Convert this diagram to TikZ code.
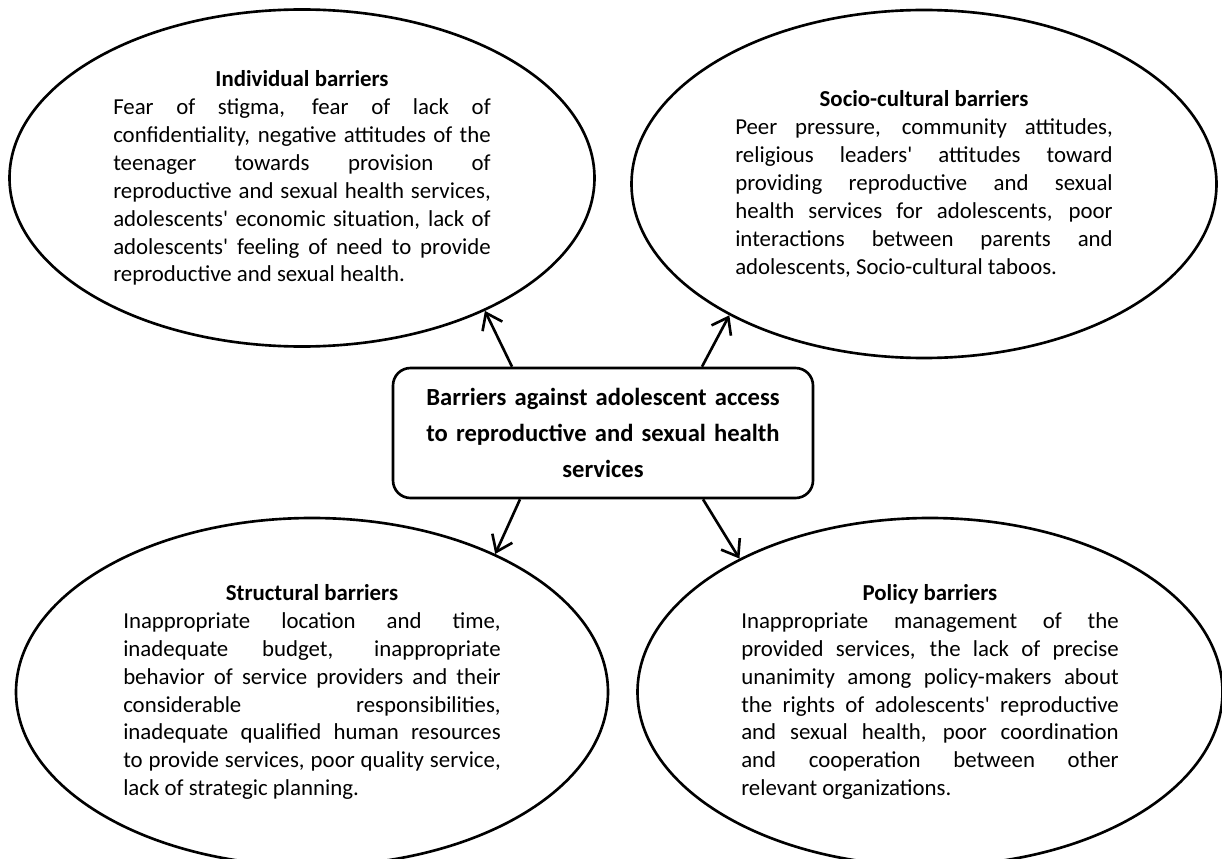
\documentclass[tikz,border=0pt]{standalone}
\usepackage{fontspec}
\setmainfont{Carlito}[Ligatures=TeXOff]
\usetikzlibrary{shapes,arrows.meta}
\tikzset{barrier/.style={ellipse,draw,inner sep=0pt,minimum width=11.7cm,minimum height=6.96cm,text width=7.55cm,align=justify,font=\fontsize{13pt}{15.9pt}\selectfont}}
\tikzset{hubbox/.style={rectangle,draw,rounded corners=0.35cm,minimum width=8.4cm,minimum height=2.6cm,text width=7.8cm,align=center,font=\bfseries\fontsize{14pt}{20.4pt}\selectfont}}
\newcommand{\btitle}[1]{{\centering\textbf{#1}\par}}

\begin{document}
\begin{tikzpicture}[>={Straight Barb[length=3mm,width=4.4mm]},line width=1.5pt]
        \clip (0,0) rectangle (24.44,17.16);
        \node[barrier,minimum height=6.74cm] (ind) at (6.04,13.60) {\btitle{Individual barriers}
            Fear of stigma, fear of lack of\linebreak
            confidentiality, negative attitudes of the\linebreak
            teenager towards provision of\linebreak
            reproductive and sexual health services,\linebreak
            adolescents' economic situation, lack of\linebreak
            adolescents' feeling of need to provide\linebreak
            reproductive and sexual health.};
        \node[barrier] (soc) at (18.48,13.48) {\btitle{Socio-cultural barriers}
            Peer pressure, community attitudes,\linebreak
            religious leaders' attitudes toward\linebreak
            providing reproductive and sexual\linebreak
            health services for adolescents, poor\linebreak
            interactions between parents and\linebreak
            adolescents, Socio-cultural taboos.};
        \node[hubbox] (hub) at (12.06,8.50) {Barriers against adolescent access\\to reproductive and sexual health\\services};
        \node[barrier,minimum width=11.84cm] (str) at (6.24,3.32) {\btitle{Structural barriers}
            Inappropriate location and time,\linebreak
            inadequate budget, inappropriate\linebreak
            behavior of service providers and their\linebreak
            considerable responsibilities,\linebreak
            inadequate qualified human resources\linebreak
            to provide services, poor quality service,\linebreak
            lack of strategic planning.};
        \node[barrier] (pol) at (18.60,3.32) {\btitle{Policy barriers}
            Inappropriate management of the\linebreak
            provided services, the lack of precise\linebreak
            unanimity among policy-makers about\linebreak
            the rights of adolescents' reproductive\linebreak
            and sexual health, poor coordination\linebreak
            and cooperation between other\linebreak
            relevant organizations.};

        \draw [->] ([xshift=-1.82cm]hub.north) -- (ind.324);
        \draw [->] ([xshift=1.98cm]hub.north) -- (soc.214);
        \draw [->] ([xshift=-1.66cm]hub.south) -- (str.37);
        \draw [->] ([xshift=2cm]hub.south) -- (pol.145);
    \end{tikzpicture}
\end{document}
